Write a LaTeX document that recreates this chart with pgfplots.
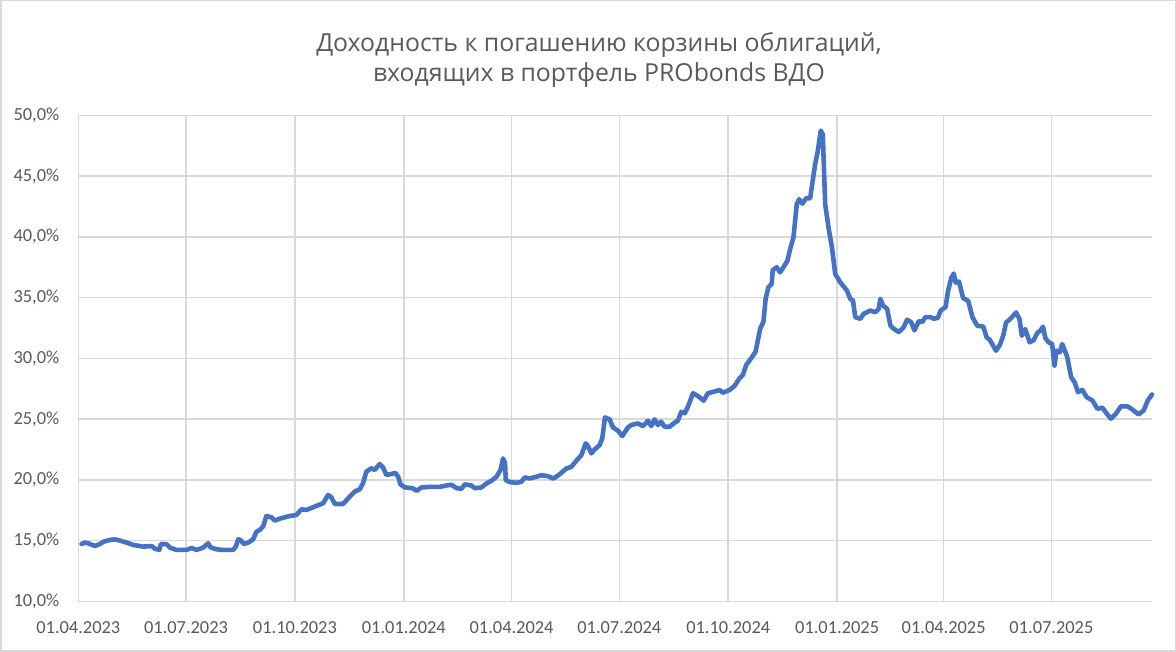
\documentclass[border=0pt]{standalone}
\usepackage{fontspec}
\setmainfont{Carlito}
\newfontfamily\titlefont{Open Sans}
\usepackage{pgfplots}
\pgfplotsset{compat=1.18}
\definecolor{ser}{HTML}{4472C4}
\definecolor{gridc}{HTML}{D9D9D9}
\definecolor{txt}{HTML}{595959}
\begin{document}
\begin{tikzpicture}
\path[use as bounding box] (0,0) rectangle (588pt,326pt);
\draw[gridc, line width=0.75pt] (0.375pt,0.375pt) rectangle (587.625pt,325.625pt);
\node[anchor=base, text=txt, font=\titlefont\fontsize{12.4pt}{15pt}\selectfont, inner sep=0pt] at (299.5pt,300.15pt) {Доходность к погашению корзины облигаций,};
\node[anchor=base, text=txt, font=\titlefont\fontsize{12.4pt}{15pt}\selectfont, inner sep=0pt] at (299.5pt,285.15pt) {входящих в портфель PRObonds ВДО};
\begin{axis}[
  at={(39.15pt,25.35pt)}, anchor=south west,
  scale only axis, width=536.85pt, height=243pt,
  xmin=0, xmax=907, ymin=10, ymax=50,
  axis line style={draw=none},
  major tick length=0pt,
  grid=major,
  major grid style={gridc, line width=0.75pt},
  xtick={0,91,183,275,366,457,549,641,731,822},
  xticklabels={01.04.2023,01.07.2023,01.10.2023,01.01.2024,01.04.2024,01.07.2024,01.10.2024,01.01.2025,01.04.2025,01.07.2025},
  ytick={10,15,20,25,30,35,40,45,50},
  yticklabels={{10,0\%},{15,0\%},{20,0\%},{25,0\%},{30,0\%},{35,0\%},{40,0\%},{45,0\%},{50,0\%}},
  tick label style={text=txt, font=\fontsize{9.2pt}{11pt}\selectfont},
  yticklabel style={xshift=-6pt},
  xticklabel style={yshift=-6.5pt},
  clip=false,
]
\addplot[ser, line width=2.3pt, line join=round, line cap=round] table {
2.8 14.72
5.6 14.83
8.4 14.77
14.1 14.55
18.3 14.72
21.1 14.90
26.7 15.05
30.9 15.10
35.2 15.00
40.8 14.83
46.4 14.64
54.9 14.50
61.9 14.55
64.7 14.33
68.4 14.23
69.8 14.72
74.5 14.70
77.4 14.42
83.0 14.23
91.4 14.23
95.6 14.39
99.9 14.23
105.5 14.42
109.7 14.77
111.7 14.44
116.7 14.28
122.4 14.23
130.8 14.23
133.1 14.50
135.0 15.10
137.0 15.05
139.8 14.72
143.5 14.83
147.7 15.10
150.5 15.73
153.3 15.87
156.1 16.15
158.9 17.02
163.2 16.91
166.0 16.64
170.2 16.80
174.4 16.91
178.6 17.02
184.2 17.10
188.5 17.57
192.7 17.52
196.9 17.68
201.1 17.85
206.8 18.07
211.0 18.75
213.8 18.56
216.6 18.01
223.6 18.01
229.3 18.61
233.5 19.03
237.7 19.22
240.5 19.71
243.3 20.67
247.5 20.95
250.4 20.81
254.6 21.30
257.5 21.00
260.2 20.40
264.4 20.48
268.0 20.56
270.2 20.25
272.2 19.62
275.7 19.38
282.7 19.30
285.7 19.09
289.9 19.37
296.9 19.42
305.4 19.42
311.0 19.53
315.2 19.59
319.4 19.31
323.7 19.26
326.5 19.62
332.1 19.53
335.0 19.31
340.5 19.37
344.8 19.70
349.0 19.92
353.2 20.25
356.6 20.80
358.8 21.76
360.5 21.35
361.1 19.97
364.5 19.81
370.1 19.75
374.3 19.84
377.1 20.19
381.3 20.11
387.0 20.25
391.2 20.38
396.8 20.30
401.0 20.11
403.8 20.25
408.1 20.58
412.3 20.93
416.5 21.07
420.7 21.57
425.0 22.03
428.6 23.00
430.6 22.77
433.4 22.17
436.2 22.50
440.4 22.86
442.6 23.41
444.9 25.14
448.8 24.97
451.7 24.31
455.9 24.04
459.5 23.60
464.3 24.31
467.1 24.51
472.7 24.64
476.9 24.42
481.2 24.86
484.0 24.42
486.8 24.97
489.6 24.51
492.4 24.78
495.2 24.37
499.5 24.37
503.7 24.70
506.5 24.86
509.3 25.60
512.2 25.47
515.0 26.02
519.2 27.12
523.4 26.90
528.2 26.51
531.8 27.12
536.0 27.23
541.7 27.39
544.5 27.17
550.1 27.39
554.3 27.72
558.5 28.35
561.4 28.63
564.2 29.45
568.4 30.00
572.1 30.55
574.1 31.51
576.0 32.45
578.7 32.98
580.6 34.89
582.9 35.85
585.7 36.12
586.6 37.27
590.0 37.49
592.8 37.08
595.6 37.49
599.0 38.03
601.3 38.99
604.1 39.95
606.9 42.68
608.9 43.09
611.7 42.73
614.8 43.17
618.2 43.17
622.4 45.96
624.4 46.91
627.2 48.74
628.9 48.42
630.9 42.68
633.7 40.77
636.6 39.13
639.4 36.94
643.6 36.26
649.3 35.57
652.1 34.89
654.4 34.75
656.3 33.39
660.6 33.25
663.4 33.66
669.1 33.93
673.3 33.80
676.1 34.07
677.5 34.89
679.8 34.34
683.2 34.07
686.0 32.70
688.8 32.43
693.1 32.16
697.3 32.57
700.1 33.17
703.5 32.98
706.3 32.30
710.0 33.06
712.8 32.98
715.6 33.39
719.9 33.39
722.7 33.25
726.1 33.33
728.4 33.93
732.6 34.21
734.7 35.55
737.5 36.64
739.5 36.97
741.2 36.23
744.0 36.31
747.4 34.95
751.7 34.73
755.4 33.36
759.4 32.68
764.5 32.60
767.3 31.72
770.1 31.50
775.2 30.63
778.6 31.12
781.5 31.94
783.7 32.95
787.1 33.22
792.2 33.77
795.1 33.22
797.0 31.86
799.9 32.40
803.6 31.31
807.0 31.50
810.4 32.13
812.7 32.27
814.9 32.60
816.9 31.67
819.7 31.31
822.6 31.17
824.6 29.40
826.3 30.63
829.1 30.49
831.1 31.17
835.3 30.14
838.7 28.44
841.6 28.03
844.4 27.21
848.1 27.40
851.8 26.80
856.6 26.53
860.9 25.85
865.1 25.93
868.8 25.44
872.2 25.03
876.5 25.44
880.7 26.04
886.4 26.04
890.6 25.77
895.5 25.38
900.0 25.71
903.4 26.53
907.0 27.02
};
\end{axis}
\end{tikzpicture}
\end{document}
